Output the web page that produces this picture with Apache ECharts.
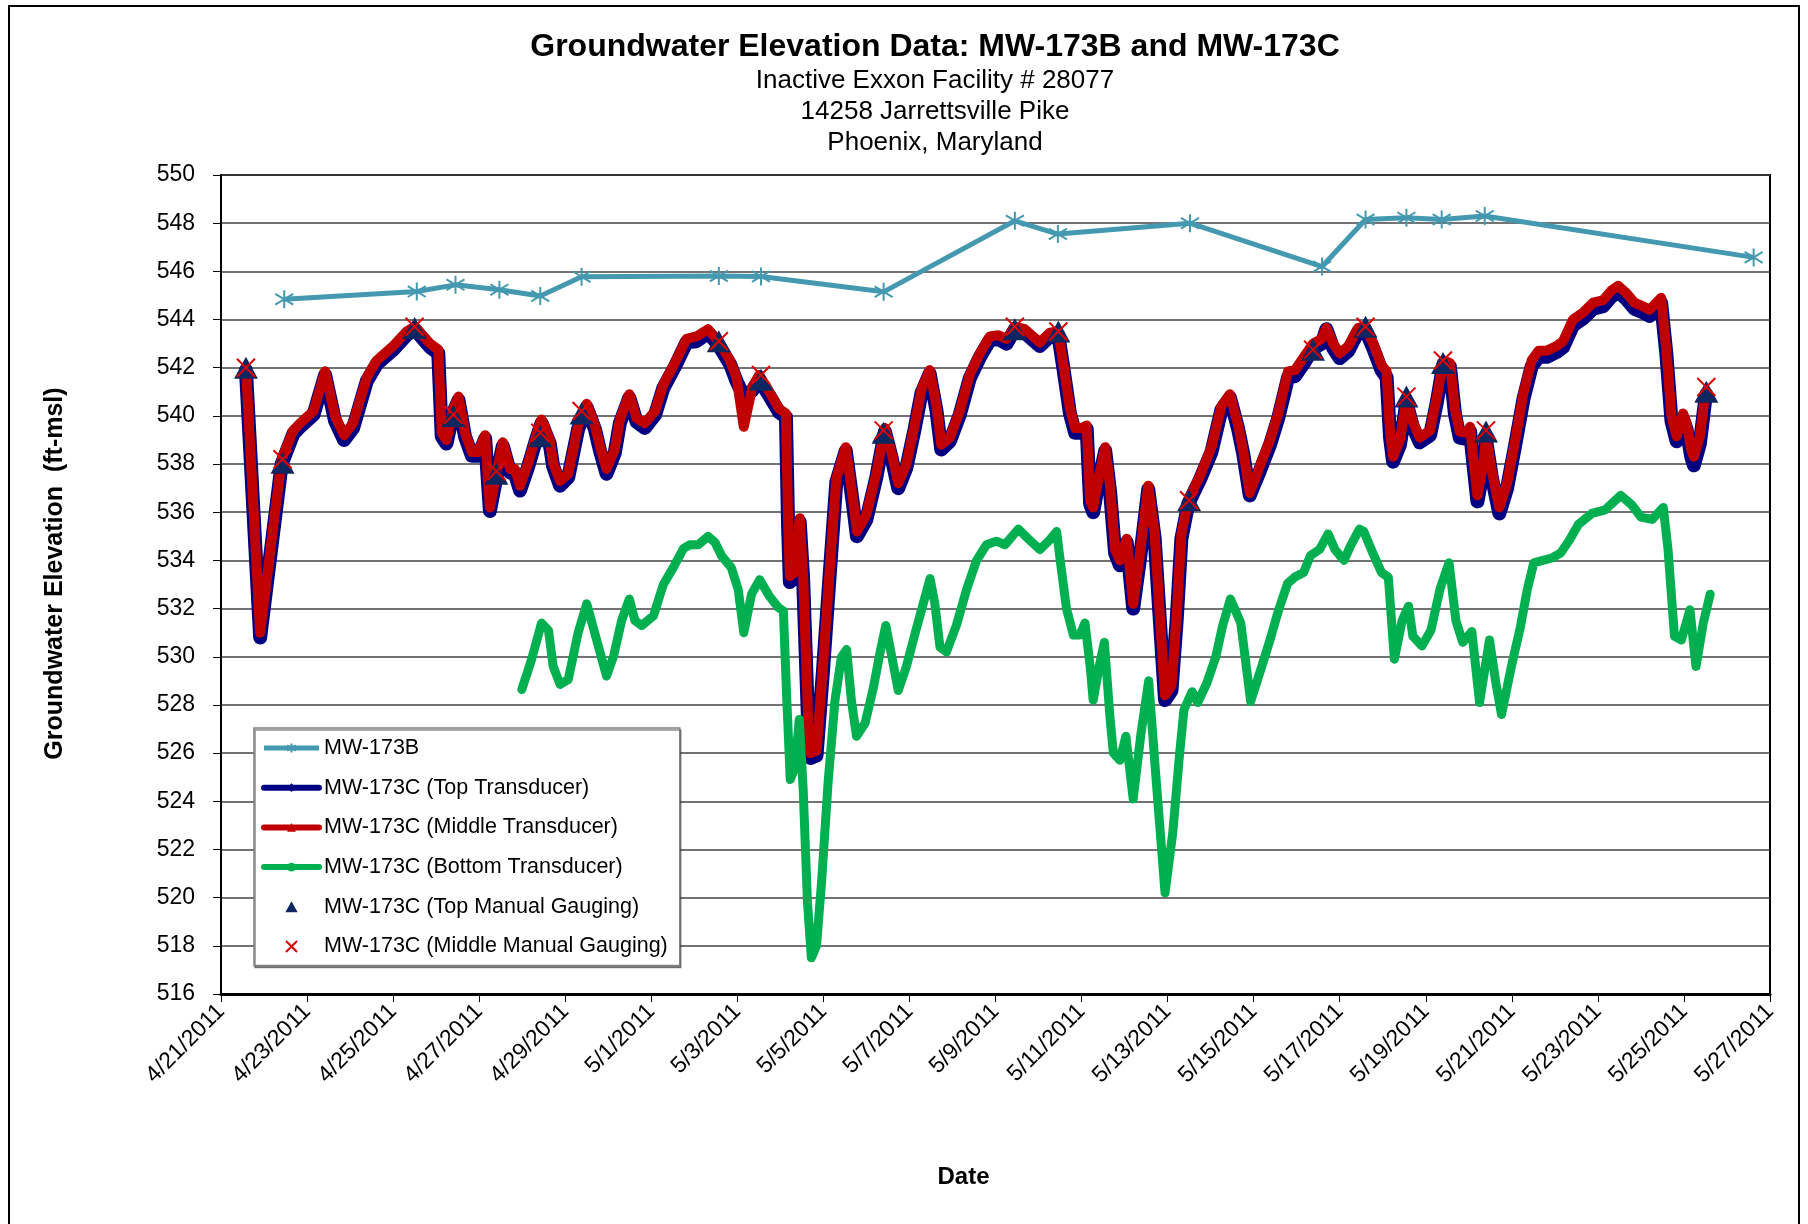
<!DOCTYPE html>
<html>
<head>
<meta charset="utf-8">
<title>Groundwater Elevation Data: MW-173B and MW-173C</title>
<script src="https://cdn.jsdelivr.net/npm/echarts/dist/echarts.min.js"></script>
<style>
  html, body { margin: 0; padding: 0; background: #fff; }
  #main { width: 1808px; height: 1224px; }
</style>
</head>
<body>
<div id="main"></div>
<script>
// x values are days counted from 4/21/2011 00:00
var dateTicks = ['4/21/2011', '4/23/2011', '4/25/2011', '4/27/2011', '4/29/2011', '5/1/2011',
  '5/3/2011', '5/5/2011', '5/7/2011', '5/9/2011', '5/11/2011', '5/13/2011', '5/15/2011',
  '5/17/2011', '5/19/2011', '5/21/2011', '5/23/2011', '5/25/2011', '5/27/2011'];

// MW-173B
var wellBDays = [1.47, 4.55, 5.45, 6.47, 7.42, 8.38, 11.57, 12.55, 15.4, 18.45, 19.45, 22.52, 25.59, 26.6, 27.55, 28.37, 29.37, 35.62];
var wellBLevels = [544.84, 545.16, 545.44, 545.24, 544.98, 545.78, 545.81, 545.79, 545.15, 548.1, 547.55, 548.0, 546.2, 548.15, 548.23, 548.15, 548.3, 546.58];

// MW-173C top and middle transducers (same reading times)
var transDays = [
  0.58, 0.91, 1.41, 1.68, 1.84, 2.15, 2.42, 2.65, 2.86, 3.07,
  3.39, 3.62, 4.0, 4.31, 4.5, 4.86, 5.05, 5.13, 5.24, 5.4,
  5.52, 5.67, 5.83, 5.98, 6.14, 6.21, 6.25, 6.4, 6.55, 6.72,
  6.83, 6.95, 7.14, 7.33, 7.45, 7.64, 7.72, 7.88, 8.07, 8.3,
  8.5, 8.69, 8.81, 8.96, 9.15, 9.27, 9.49, 9.66, 9.85, 10.09,
  10.28, 10.55, 10.82, 11.05, 11.32, 11.56, 11.83, 11.98, 12.15, 12.35,
  12.51, 12.74, 12.97, 13.13, 13.18, 13.22, 13.33, 13.45, 13.53, 13.65,
  13.7, 13.84, 13.99, 14.15, 14.3, 14.52, 14.69, 14.78, 15.0, 15.23,
  15.43, 15.58, 15.74, 15.93, 16.12, 16.28, 16.47, 16.63, 16.74, 16.94,
  17.17, 17.4, 17.64, 17.87, 18.06, 18.26, 18.45, 18.68, 19.03, 19.26,
  19.46, 19.58, 19.73, 19.85, 20.0, 20.12, 20.2, 20.27, 20.39, 20.55,
  20.66, 20.78, 20.89, 21.05, 21.2, 21.36, 21.55, 21.7, 21.82, 21.94,
  22.09, 22.21, 22.32, 22.48, 22.75, 23.02, 23.25, 23.45, 23.64, 23.76,
  23.91, 24.14, 24.38, 24.57, 24.8, 24.96, 25.19, 25.38, 25.58, 25.69,
  25.85, 26.0, 26.2, 26.43, 26.59, 26.78, 26.97, 27.09, 27.17, 27.24,
  27.4, 27.55, 27.7, 27.86, 28.1, 28.25, 28.41, 28.56, 28.68, 28.79,
  28.95, 29.03, 29.1, 29.2, 29.34, 29.4, 29.53, 29.71, 29.89, 30.08,
  30.27, 30.46, 30.62, 30.81, 31.04, 31.19, 31.42, 31.66, 31.89, 32.12,
  32.31, 32.47, 32.66, 32.85, 33.05, 33.2, 33.36, 33.47, 33.59, 33.71,
  33.83, 33.98, 34.06, 34.17, 34.23, 34.37, 34.49, 34.52
];
var topLevels = [
  541.9, 530.8, 538.0, 539.25, 539.55, 540.05, 541.7, 539.8, 539.0, 539.5,
  541.45, 542.15, 542.75, 543.35, 543.6, 542.85, 542.6, 539.15, 538.85, 540.15,
  540.65, 539.15, 538.35, 538.35, 539.05, 537.1, 536.05, 537.45, 538.75, 537.65,
  537.6, 536.9, 537.9, 539.05, 539.7, 538.85, 537.9, 537.1, 537.45, 539.45,
  540.35, 539.45, 538.55, 537.6, 538.45, 539.7, 540.75, 539.75, 539.5, 540.05,
  541.15, 542.05, 543.05, 543.1, 543.45, 542.95, 542.15, 541.45, 540.8, 541.05,
  541.5, 540.85, 540.15, 539.95, 535.4, 533.1, 533.3, 535.6, 533.2, 527.0,
  525.8, 525.9, 529.4, 533.5, 537.25, 538.55, 536.3, 535.0, 535.7, 537.45,
  539.35, 538.3, 537.0, 537.85, 539.45, 540.95, 541.75, 540.2, 538.6, 538.95,
  540.05, 541.55, 542.45, 543.15, 543.2, 543.0, 543.6, 543.45, 542.9, 543.3,
  543.35, 541.95, 540.1, 539.3, 539.3, 539.45, 536.35, 536.0, 537.2, 538.55,
  536.9, 534.3, 533.8, 534.75, 532.0, 534.1, 536.95, 534.9, 531.5, 528.2,
  528.6, 531.5, 534.9, 536.35, 537.35, 538.5, 540.25, 540.75, 539.45, 538.4,
  536.7, 537.7, 538.8, 539.9, 541.6, 541.65, 542.25, 542.8, 543.0, 543.6,
  542.8, 542.4, 542.7, 543.5, 543.6, 542.8, 541.9, 541.6, 539.1, 538.1,
  538.8, 540.55, 539.55, 538.9, 539.2, 540.5, 542.15, 542.05, 540.05, 539.1,
  539.05, 539.35, 538.1, 536.45, 537.8, 539.0, 537.5, 535.95, 537.0, 538.8,
  540.7, 542.05, 542.45, 542.45, 542.65, 542.85, 543.75, 544.05, 544.45, 544.55,
  544.95, 545.15, 544.85, 544.45, 544.3, 544.15, 544.45, 544.7, 542.6, 539.8,
  538.95, 539.85, 539.45, 538.3, 537.95, 538.85, 540.6, 540.9
];
var midLevels = [
  542.0, 531.0, 538.2, 539.4, 539.7, 540.2, 541.85, 540.0, 539.2, 539.7,
  541.6, 542.3, 542.9, 543.5, 543.7, 543.0, 542.75, 539.3, 539.0, 540.3,
  540.8, 539.3, 538.5, 538.5, 539.2, 537.2, 536.2, 537.6, 538.9, 537.8,
  537.8, 537.1, 538.05, 539.2, 539.85, 539.0, 538.05, 537.3, 537.6, 539.6,
  540.5, 539.6, 538.7, 537.8, 538.6, 539.85, 540.9, 539.9, 539.7, 540.2,
  541.3, 542.2, 543.2, 543.3, 543.6, 543.1, 542.3, 541.6, 539.55, 541.2,
  541.7, 541.0, 540.3, 540.1, 535.6, 533.35, 533.5, 535.75, 533.35, 527.2,
  526.0, 526.1, 529.6, 533.7, 537.4, 538.7, 536.5, 535.2, 535.9, 537.6,
  539.5, 538.5, 537.2, 538.0, 539.6, 541.1, 541.9, 540.4, 538.8, 539.1,
  540.2, 541.7, 542.6, 543.3, 543.35, 543.2, 543.7, 543.6, 543.05, 543.45,
  543.5, 542.1, 540.3, 539.5, 539.5, 539.6, 536.5, 536.2, 537.35, 538.7,
  537.1, 534.45, 534.0, 534.9, 532.2, 534.3, 537.1, 535.1, 531.7, 528.4,
  528.8, 531.7, 535.1, 536.5, 537.5, 538.7, 540.4, 540.9, 539.6, 538.5,
  536.8, 537.9, 539.0, 540.1, 541.85, 541.9, 542.5, 543.0, 543.2, 543.65,
  543.0, 542.6, 542.9, 543.65, 543.7, 543.0, 542.1, 541.85, 539.3, 538.3,
  539.0, 540.7, 539.75, 539.1, 539.4, 540.7, 542.3, 542.2, 540.25, 539.35,
  539.3, 539.55, 538.3, 536.7, 538.0, 539.15, 537.75, 536.2, 537.2, 539.0,
  540.95, 542.3, 542.7, 542.7, 542.9, 543.1, 544.0, 544.3, 544.7, 544.8,
  545.2, 545.4, 545.1, 544.7, 544.55, 544.4, 544.7, 544.9, 542.75, 540.0,
  539.15, 540.1, 539.7, 538.6, 538.3, 539.15, 540.8, 541.0
];

// MW-173C bottom transducer
var bottomDays = [
  6.99, 7.22, 7.45, 7.61, 7.72, 7.88, 8.07, 8.3, 8.5, 8.73,
  8.96, 9.12, 9.31, 9.49, 9.62, 9.78, 10.05, 10.28, 10.51, 10.75,
  10.9, 11.09, 11.32, 11.48, 11.63, 11.86, 12.02, 12.15, 12.33, 12.52,
  12.75, 12.95, 13.07, 13.15, 13.23, 13.34, 13.44, 13.53, 13.63, 13.72,
  13.84, 13.96, 14.11, 14.27, 14.42, 14.54, 14.65, 14.77, 14.97, 15.16,
  15.32, 15.45, 15.59, 15.74, 15.93, 16.12, 16.32, 16.48, 16.59, 16.71,
  16.86, 17.09, 17.33, 17.56, 17.79, 18.02, 18.22, 18.53, 18.76, 19.03,
  19.26, 19.42, 19.54, 19.65, 19.81, 19.96, 20.08, 20.2, 20.27, 20.41,
  20.53, 20.66, 20.74, 20.89, 21.03, 21.2, 21.38, 21.56, 21.72, 21.94,
  22.12, 22.28, 22.38, 22.57, 22.7, 22.91, 23.12, 23.28, 23.46, 23.7,
  23.8, 23.93, 24.17, 24.38, 24.59, 24.79, 24.95, 25.16, 25.32, 25.53,
  25.73, 25.89, 26.1, 26.25, 26.46, 26.56, 26.77, 26.97, 27.13, 27.27,
  27.45, 27.6, 27.7, 27.91, 28.12, 28.33, 28.54, 28.7, 28.86, 29.07,
  29.25, 29.48, 29.63, 29.76, 29.99, 30.2, 30.36, 30.51, 30.72, 30.93,
  31.13, 31.34, 31.55, 31.86, 32.17, 32.53, 32.79, 33.0, 33.26, 33.52,
  33.63, 33.78, 33.94, 34.14, 34.28, 34.45, 34.61
];
var bottomLevels = [
  528.64, 529.9, 531.4, 531.1, 529.6, 528.85, 529.05, 531.0, 532.2, 530.7,
  529.2, 530.0, 531.5, 532.4, 531.5, 531.3, 531.7, 533.0, 533.7, 534.5,
  534.65, 534.65, 535.0, 534.75, 534.2, 533.7, 532.8, 531.0, 532.6, 533.2,
  532.5, 532.05, 531.9, 528.2, 524.9, 525.4, 527.4, 524.5, 519.8, 517.5,
  518.0, 520.7, 524.8, 528.2, 530.0, 530.3, 528.2, 526.7, 527.25, 528.7,
  530.2, 531.3, 530.0, 528.6, 529.6, 530.9, 532.2, 533.25, 532.2, 530.4,
  530.2, 531.3, 532.8, 534.0, 534.65, 534.8, 534.65, 535.3, 534.9, 534.45,
  534.85, 535.2, 533.5, 532.0, 530.9, 530.9, 531.4, 529.6, 528.2, 529.6,
  530.6, 527.5, 526.0, 525.7, 526.7, 524.1, 526.8, 529.0, 525.2, 520.2,
  522.7, 526.0, 527.8, 528.55, 528.1, 528.9, 530.0, 531.3, 532.4, 531.4,
  530.0, 528.15, 529.5, 530.7, 532.0, 533.05, 533.3, 533.5, 534.2, 534.45,
  535.1, 534.45, 534.0, 534.6, 535.3, 535.2, 534.3, 533.5, 533.3, 529.9,
  531.5, 532.1, 530.85, 530.45, 531.1, 532.8, 533.9, 531.5, 530.6, 531.05,
  528.1, 530.7, 528.9, 527.6, 529.6, 531.25, 532.8, 533.9, 534.0, 534.1,
  534.3, 534.85, 535.5, 535.95, 536.1, 536.7, 536.3, 535.8, 535.7, 536.2,
  534.45, 530.85, 530.7, 531.95, 529.6, 531.4, 532.6
];

// manual gauging
var gaugeDays = [0.58, 1.43, 4.5, 5.4, 6.4, 7.42, 8.38, 11.57, 12.55, 15.4, 18.45, 19.46, 22.5, 25.38, 26.6, 27.55, 28.4, 29.4, 34.52];
var gaugeTop = [542.0, 538.05, 543.65, 540.0, 537.6, 539.15, 540.1, 543.1, 541.5, 539.3, 543.6, 543.5, 536.5, 542.75, 543.7, 540.8, 542.2, 539.35, 541.0];
var gaugeMid = [542.0, 538.2, 543.7, 540.05, 537.7, 539.3, 540.2, 543.1, 541.7, 539.4, 543.7, 543.5, 536.5, 542.75, 543.7, 540.8, 542.3, 539.4, 541.2];

var FONT = 'Liberation Sans, Arial, sans-serif';
var STAR = 'path://M10,0L10,20M1,4L19,16M19,4L1,16';
var CROSS = 'path://M0,0L20,20M20,0L0,20';
var TRI = 'path://M10,0L20,18L0,18Z';

function pairs(xs, ys) {
  return xs.map(function (x, i) { return [x, ys[i]]; });
}

var chart = echarts.init(document.getElementById('main'));

var option = {
  animation: false,
  backgroundColor: '#fff',
  title: [
    {
      text: 'Groundwater Elevation Data: MW-173B and MW-173C',
      left: 930, top: 26, textAlign: 'center',
      textStyle: { fontFamily: FONT, fontSize: 32, fontWeight: 'bold', color: '#000' }
    },
    {
      text: 'Inactive Exxon Facility # 28077\n14258 Jarrettsville Pike\nPhoenix, Maryland',
      left: 930, top: 60, textAlign: 'center',
      textStyle: { fontFamily: FONT, fontSize: 26, fontWeight: 'normal', color: '#000', lineHeight: 31 }
    }
  ],
  graphic: [
    {
      type: 'rect', silent: true, z: -1,
      shape: { x: 9, y: 6, width: 1790, height: 1230 },
      style: { fill: 'none', stroke: '#000', lineWidth: 2 }
    }
  ],
  grid: {
    left: 221, right: 38, top: 175, bottom: 230,
    show: true, borderColor: '#000', borderWidth: 2,
    outerBoundsMode: 'none'
  },
  legend: {
    orient: 'vertical',
    left: 254, top: 728,
    padding: [9, 12, 8, 7],
    itemWidth: 55, itemHeight: 11, itemGap: 17.7,
    backgroundColor: '#fff',
    borderColor: '#808080', borderWidth: 1.5,
    shadowColor: 'rgba(0,0,0,0.45)', shadowOffsetX: 1, shadowOffsetY: 2, shadowBlur: 0,
    symbolKeepAspect: true,
    textStyle: { fontFamily: FONT, fontSize: 21.5, color: '#000' },
    data: [
      { name: 'MW-173B', lineStyle: { width: 5 } },
      { name: 'MW-173C (Top Transducer)', lineStyle: { width: 6 } },
      { name: 'MW-173C (Middle Transducer)', lineStyle: { width: 6 } },
      { name: 'MW-173C (Bottom Transducer)', lineStyle: { width: 6 } },
      { name: 'MW-173C (Top Manual Gauging)' },
      { name: 'MW-173C (Middle Manual Gauging)' }
    ]
  },
  xAxis: {
    type: 'value',
    min: 0, max: 36, interval: 2,
    name: 'Date',
    nameLocation: 'middle',
    nameGap: 171,
    nameTextStyle: { fontFamily: FONT, fontSize: 24, fontWeight: 'bold', color: '#000', padding: [0, 64, 0, 0] },
    axisLine: { lineStyle: { color: '#000', width: 3 } },
    axisTick: { show: true, length: 8, lineStyle: { color: '#000', width: 1 } },
    splitLine: { show: false },
    axisLabel: {
      rotate: 45, margin: 14,
      fontFamily: FONT, fontSize: 23, color: '#000',
      formatter: function (v) { return dateTicks[Math.round(v / 2)]; }
    }
  },
  yAxis: {
    type: 'value',
    min: 516, max: 550, interval: 2,
    name: 'Groundwater Elevation  (ft-msl)',
    nameLocation: 'middle',
    nameGap: 153,
    nameRotate: 90,
    nameTextStyle: { fontFamily: FONT, fontSize: 25, fontWeight: 'bold', color: '#000', padding: [0, 0, 0, 22] },
    axisLine: { show: true, lineStyle: { color: '#000', width: 2 } },
    axisTick: { show: true, length: 8, lineStyle: { color: '#000', width: 1 } },
    splitLine: { show: true, lineStyle: { color: '#444', width: 1.5 } },
    axisLabel: { margin: 26, fontFamily: FONT, fontSize: 23, color: '#000' }
  },
  series: [
    {
      name: 'MW-173B',
      type: 'line',
      data: pairs(wellBDays, wellBLevels),
      symbol: STAR, symbolSize: 18,
      itemStyle: { color: '#4499b0', borderColor: '#4499b0', borderWidth: 2 },
      lineStyle: { color: '#4499b0', width: 5 }
    },
    {
      name: 'MW-173C (Top Transducer)',
      type: 'line',
      data: pairs(transDays, topLevels),
      symbol: 'diamond', showSymbol: false,
      itemStyle: { color: '#000080' },
      lineStyle: { color: '#000080', width: 14, join: 'round', cap: 'round' }
    },
    {
      name: 'MW-173C (Middle Transducer)',
      type: 'line',
      data: pairs(transDays, midLevels),
      symbol: 'triangle', showSymbol: false,
      itemStyle: { color: '#c00000' },
      lineStyle: { color: '#c00000', width: 10, join: 'round', cap: 'round' }
    },
    {
      name: 'MW-173C (Bottom Transducer)',
      type: 'line',
      data: pairs(bottomDays, bottomLevels),
      symbol: 'circle', showSymbol: false,
      itemStyle: { color: '#00b050' },
      lineStyle: { color: '#00b050', width: 9, join: 'round', cap: 'round' }
    },
    {
      name: 'MW-173C (Top Manual Gauging)',
      type: 'scatter',
      z: 10,
      data: pairs(gaugeDays, gaugeTop),
      symbol: TRI, symbolSize: [24, 22],
      itemStyle: { color: '#0c2660', opacity: 1 }
    },
    {
      name: 'MW-173C (Middle Manual Gauging)',
      type: 'scatter',
      z: 11,
      data: pairs(gaugeDays, gaugeMid),
      symbol: CROSS, symbolSize: 18,
      itemStyle: { color: 'rgba(0,0,0,0)', borderColor: '#e00000', borderWidth: 2, opacity: 1 }
    }
  ]
};

chart.setOption(option);
</script>
</body>
</html>
